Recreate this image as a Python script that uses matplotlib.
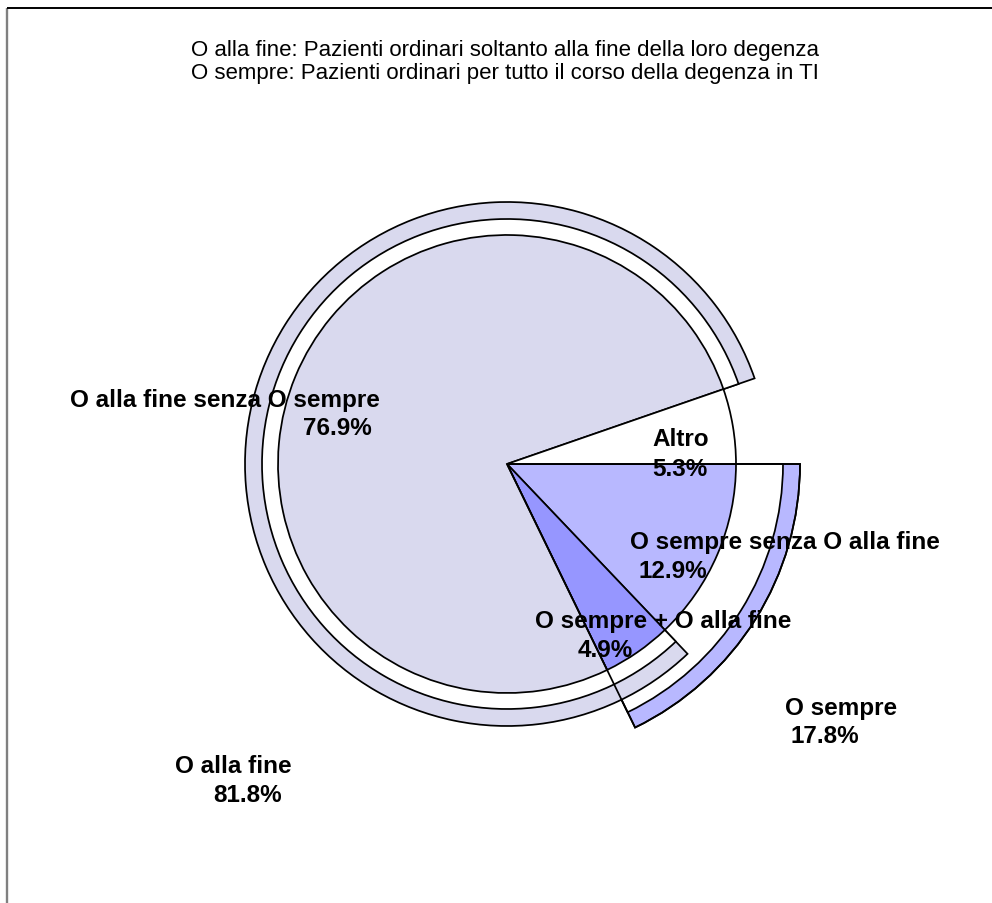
import matplotlib
matplotlib.use('Agg')
import matplotlib.pyplot as plt

plt.rcParams['font.family'] = ['Liberation Sans', 'DejaVu Sans']

# inner pie: clockwise from 3 o'clock
slice_names = ['O sempre senza O alla fine', 'O sempre + O alla fine',
               'O alla fine senza O sempre', 'Altro']
slice_pct = [12.9, 4.9, 76.9, 5.3]
slice_colors = ['#B8B8FF', '#9696FF', '#D9D9EE', '#FFFFFF']

# outer rings (groups)
group_names = ['O sempre', 'O alla fine']
group_pct = [17.8, 81.8]
group_colors = ['#B8B8FF', '#D9D9EE']

title_lines = ['O alla fine: Pazienti ordinari soltanto alla fine della loro degenza',
               'O sempre: Pazienti ordinari per tutto il corso della degenza in TI']

# label anchor (left x, baseline y) in pixels from top-left
slice_label_pos = [(630, 549, 638, 578), (535, 628, 578, 657),
                   (70, 407, 303, 435), (652, 446, 652, 476)]
group_label_pos = [(785, 715, 790, 743), (175, 773, 213, 802)]

W, H = 992, 904
cx, cy = 507, H - 465
lw = 1.25
edge = dict(edgecolor='black', linewidth=lw)

fig = plt.figure(figsize=(W / 100, H / 100), dpi=100)
ax = fig.add_axes([0, 0, 1, 1])

# O sempre ring (pulled out further)
w, _ = ax.pie([group_pct[0], 100 - group_pct[0]], radius=293, center=(cx, cy),
              startangle=0, counterclock=False, colors=[group_colors[0], 'none'],
              wedgeprops=edge)
w[1].set_visible(False)
w, _ = ax.pie([group_pct[0], 100 - group_pct[0]], radius=276, center=(cx, cy),
              startangle=0, counterclock=False, colors=['white', 'none'],
              wedgeprops=edge)
w[1].set_visible(False)

# O alla fine ring
rest = 100 - slice_pct[0] - group_pct[1]
for r, c in [(262, group_colors[1]), (245, 'white')]:
    w, _ = ax.pie([slice_pct[0], group_pct[1], rest], radius=r, center=(cx, cy),
                  startangle=0, counterclock=False, colors=['none', c, 'none'],
                  wedgeprops=edge)
    w[0].set_visible(False)
    w[2].set_visible(False)

# inner pie
ax.pie(slice_pct, radius=229, center=(cx, cy), startangle=0, counterclock=False,
       colors=slice_colors, wedgeprops=edge)

# outline of O sempre ring on top
w, _ = ax.pie([group_pct[0], 100 - group_pct[0]], radius=293, center=(cx, cy),
              startangle=0, counterclock=False, colors=['none', 'none'],
              wedgeprops=dict(edgecolor='black', linewidth=lw, fill=False))
w[1].set_visible(False)

ax.set_xlim(0, W)
ax.set_ylim(0, H)
ax.set_aspect('auto')
ax.axis('off')

# frame lines (left and top)
ax.plot([7, 7], [0, H - 9], color='#808080', lw=1.7, solid_capstyle='butt')
ax.plot([7, W], [H - 9, H - 9], color='black', lw=1.4, solid_capstyle='butt')

for name, pct, (x1, y1, x2, y2) in zip(slice_names, slice_pct, slice_label_pos):
    ax.text(x1, H - y1, name, ha='left', va='baseline', fontsize=17.5, fontweight='bold')
    ax.text(x2, H - y2, f'{pct:.1f}%', ha='left', va='baseline', fontsize=17.5, fontweight='bold')

for name, pct, (x1, y1, x2, y2) in zip(group_names, group_pct, group_label_pos):
    ax.text(x1, H - y1, name, ha='left', va='baseline', fontsize=17.5, fontweight='bold')
    ax.text(x2, H - y2, f'{pct:.1f}%', ha='left', va='baseline', fontsize=17.5, fontweight='bold')

ax.text(505, H - 56, title_lines[0], ha='center', va='baseline', fontsize=16)
ax.text(505, H - 79, title_lines[1], ha='center', va='baseline', fontsize=16)

fig.savefig('out.png', dpi=100)
